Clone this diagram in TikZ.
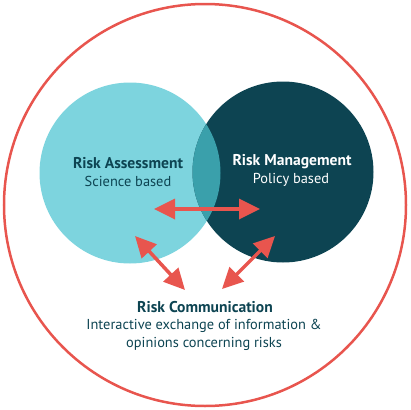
\documentclass[tikz,border=0pt]{standalone}
\usepackage{fontspec}
\setmainfont{PT Sans}
\usetikzlibrary{arrows.meta}
\definecolor{ra}{HTML}{7DD4DE}
\definecolor{rm}{HTML}{0D4452}
\definecolor{ov}{HTML}{3AA0AB}
\definecolor{rc}{HTML}{E8554E}
\definecolor{tx}{HTML}{0D4452}
\tikzset{
  venn/.style={circle, minimum size=181pt, inner sep=0pt},
  title/.style={font=\bfseries\fontsize{15.6}{17}\selectfont, inner sep=0pt},
  sub/.style={font=\fontsize{14.4}{17}\selectfont, inner sep=0pt},
  link/.style={rc, line width=3.5pt, {Triangle[length=21pt,width=20pt]}-{Triangle[length=21pt,width=20pt]}}
}
\begin{document}
\begin{tikzpicture}[x=1pt,y=-1pt]
\useasboundingbox (0,0) rectangle (410,410);
\node[circle, draw=rc, line width=2.5pt, minimum size=402pt, inner sep=0pt] (outer) at (205,205) {};
\node[venn, fill=ra] (left) at (130,173) {};
\node[venn, fill=rm] (right) at (283,172) {};
\begin{scope}
  \clip (130,173) circle (90.5);
  \fill[ov] (283,172) circle (90.5);
\end{scope}
\node[title, text=tx] (ratitle) at (128,163) {Risk Assessment};
\node[sub, text=tx] (rasub) at (128,181) {Science based};
\node[title, text=white] (rmtitle) at (292,162) {Risk Management};
\node[sub, text=white] (rmsub) at (291,180) {Policy based};
\node[title, text=tx] (rctitle) at (205,307) {Risk Communication};
\node[sub, text=tx, align=center, font=\fontsize{14.4}{18.5}\selectfont] (rcsub) at (204,335) {Interactive exchange of information \&\\opinions concerning risks};
\coordinate (h1) at (154,209);
\coordinate (h2) at (260,209);
\coordinate (l1) at (135,236);
\coordinate (l2) at (185,290);
\coordinate (r1) at (275,236);
\coordinate (r2) at (222,289);
\draw[link] (h1) -- (h2);
\draw[link] (l1) -- (l2);
\draw[link] (r1) -- (r2);
\end{tikzpicture}
\end{document}
